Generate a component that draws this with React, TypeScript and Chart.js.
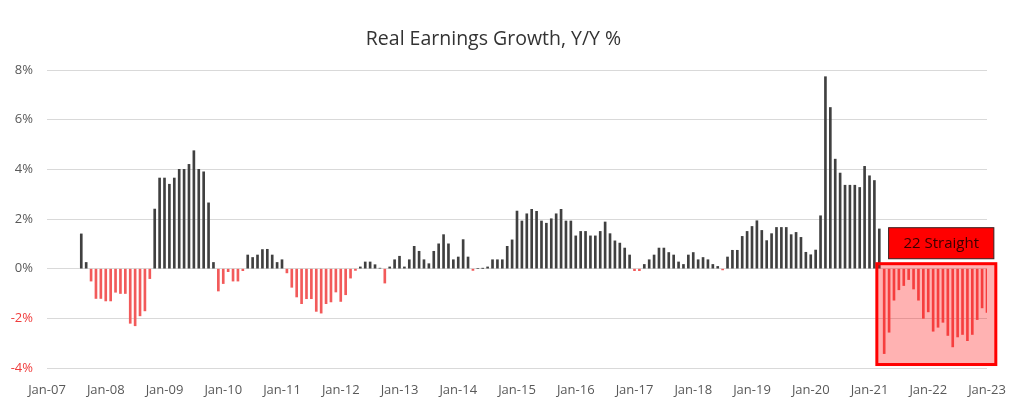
import { useEffect, useRef } from "react"
import { Chart, registerables } from "chart.js"
import type { Plugin } from "chart.js"

Chart.register(...registerables)

// x axis counts months from Jan-07; one tick label per year
const yearTicks = [
  "Jan-07", "Jan-08", "Jan-09", "Jan-10", "Jan-11", "Jan-12", "Jan-13", "Jan-14", "Jan-15",
  "Jan-16", "Jan-17", "Jan-18", "Jan-19", "Jan-20", "Jan-21", "Jan-22", "Jan-23",
]
const yTicks = [-4, -2, 0, 2, 4, 6, 8]

// first bar is Aug-07 (month 7), one value per month up to Jan-23
const firstMonth = 7
const realEarningsGrowth = [
  1.4, 0.25, -0.5, -1.2, -1.2,                                          // 2007 Aug-Dec
  -1.3, -1.3, -0.95, -1.0, -1.0, -2.2, -2.3, -1.9, -1.7, -0.4, 2.4, 3.65, // 2008
  3.65, 3.4, 3.65, 4.0, 4.0, 4.2, 4.75, 4.0, 3.9, 2.65, 0.25, -0.9,     // 2009
  -0.6, -0.12, -0.5, -0.5, -0.08, 0.55, 0.45, 0.55, 0.77, 0.78, 0.55, 0.25, // 2010
  0.36, -0.17, -0.75, -1.14, -1.41, -1.21, -1.21, -1.72, -1.79, -1.41, -1.34, -0.94, // 2011
  -1.32, -1.05, -0.38, -0.07, 0.07, 0.27, 0.27, 0.16, 0.02, -0.58, 0.07, 0.36, // 2012
  0.5, 0.07, 0.36, 0.9, 0.7, 0.36, 0.2, 0.7, 1.0, 1.37, 1.0, 0.36,     // 2013
  0.47, 1.17, 0.47, -0.07, 0, 0.01, 0.07, 0.36, 0.36, 0.36, 0.9, 1.16, // 2014
  2.32, 1.92, 2.21, 2.39, 2.31, 1.92, 1.83, 2.01, 2.21, 2.39, 1.92, 1.92, // 2015
  1.32, 1.5, 1.5, 1.32, 1.32, 1.5, 1.88, 1.41, 1.12, 1.03, 0.83, 0.55, // 2016
  -0.08, -0.08, 0.17, 0.36, 0.55, 0.83, 0.83, 0.65, 0.55, 0.27, 0.17, 0.55, // 2017
  0.65, 0.36, 0.45, 0.36, 0.17, 0.09, -0.05, 0.47, 0.74, 0.74, 1.3, 1.5, // 2018
  1.7, 1.93, 1.54, 1.13, 1.41, 1.66, 1.66, 1.66, 1.37, 1.46, 1.26, 0.66, // 2019
  0.56, 0.75, 2.13, 7.73, 6.49, 4.41, 3.85, 3.36, 3.36, 3.36, 3.27, 4.12, // 2020
  3.74, 3.55, 1.6, -3.42, -2.56, -1.27, -0.85, -0.68, -0.44, -0.82, -1.27, -2.0, // 2021
  -1.74, -2.52, -2.36, -2.16, -2.69, -3.15, -2.75, -2.65, -2.9, -2.65, -2.05, -1.58, // 2022
  -1.76,                                                                 // Jan-23
]

const streakLength = 22
const streakLabel = "22 Straight"

const barDark = "#404040"
const barRed = "#f25a5a"

const streakBox: Plugin<"bar"> = {
  id: "streakBox",
  afterDatasetsDraw(chart) {
    const { ctx, scales } = chart
    const x = scales.x
    const y = scales.y
    const lastMonth = firstMonth + realEarningsGrowth.length - 1
    const firstNeg = lastMonth - streakLength + 1
    const streak = realEarningsGrowth.slice(-streakLength)
    const low = Math.min(...streak)

    // shaded box over the run of negative months
    const left = x.getPixelForValue(firstNeg - 1.5)
    const right = x.getPixelForValue(lastMonth + 1.8)
    const top = y.getPixelForValue(0.2)
    const bottom = y.getPixelForValue(low - 0.44)
    ctx.save()
    ctx.fillStyle = "rgba(255, 0, 0, 0.3)"
    ctx.fillRect(left, top, right - left, bottom - top)
    ctx.strokeStyle = "#ff0000"
    ctx.lineWidth = 3
    ctx.strokeRect(left, top, right - left, bottom - top)

    // label above it
    const lLeft = x.getPixelForValue(firstNeg + 0.9)
    const lRight = x.getPixelForValue(lastMonth + 1.4)
    const lTop = y.getPixelForValue(1.65)
    const lBottom = y.getPixelForValue(0.4)
    ctx.fillStyle = "#ff0000"
    ctx.fillRect(lLeft, lTop, lRight - lLeft, lBottom - lTop)
    ctx.strokeStyle = "#3a2020"
    ctx.lineWidth = 1
    ctx.strokeRect(lLeft, lTop, lRight - lLeft, lBottom - lTop)
    ctx.fillStyle = "#3a0000"
    ctx.font = "15px 'Open Sans', sans-serif"
    ctx.textAlign = "center"
    ctx.textBaseline = "middle"
    ctx.fillText(streakLabel, (lLeft + lRight) / 2, (lTop + lBottom) / 2 + 1)
    ctx.restore()
  },
}

export default function App() {
  const chartRef = useRef<HTMLCanvasElement>(null)
  const chartInstance = useRef<Chart | null>(null)

  useEffect(() => {
    if (!chartRef.current) return
    if (chartInstance.current) {
      chartInstance.current.destroy()
    }
    const ctx = chartRef.current.getContext("2d")
    if (!ctx) return

    const points = realEarningsGrowth.map((v, i) => ({ x: firstMonth + i, y: v }))

    chartInstance.current = new Chart(ctx, {
      type: "bar",
      data: {
        datasets: [
          {
            label: "Real Earnings Growth, Y/Y %",
            data: points,
            backgroundColor: realEarningsGrowth.map((v) => (v < 0 ? barRed : barDark)),
            barThickness: 2,
          },
        ],
      },
      options: {
        responsive: true,
        maintainAspectRatio: false,
        animation: false,
        layout: { padding: { left: 0, right: 37, top: 0, bottom: 0 } },
        scales: {
          x: {
            type: "linear",
            offset: false,
            min: 0,
            max: (yearTicks.length - 1) * 12,
            grid: { display: false, drawTicks: false },
            border: { display: false },
            afterFit: (scale) => {
              scale.height = 41
            },
            ticks: {
              stepSize: 12,
              autoSkip: false,
              maxRotation: 0,
              padding: 14,
              color: "#595959",
              font: { size: 13 },
              callback: (v) => yearTicks[Math.round(Number(v) / 12)] ?? "",
            },
          },
          y: {
            min: yTicks[0],
            max: yTicks[yTicks.length - 1],
            grid: { color: "#d9d9d9", lineWidth: 1, drawTicks: false },
            border: { display: false },
            afterFit: (scale) => {
              scale.width = 47
            },
            ticks: {
              stepSize: 2,
              padding: 14,
              font: { size: 13 },
              color: (c) => (c.tick.value < 0 ? "#f03c3c" : "#595959"),
              callback: (v) => `${v}%`,
            },
          },
        },
        plugins: {
          legend: { display: false },
          tooltip: { enabled: false },
          title: {
            display: true,
            text: "Real Earnings Growth, Y/Y %",
            color: "#333333",
            font: { size: 19.5, weight: "normal" },
            padding: { top: 28, bottom: 18.6 },
          },
        },
      },
      plugins: [streakBox],
    })

    return () => {
      if (chartInstance.current) {
        chartInstance.current.destroy()
        chartInstance.current = null
      }
    }
  }, [])

  Chart.defaults.font.family = "'Open Sans', sans-serif"

  return (
    <div style={{ position: "absolute", left: 0, top: 0, width: 1024, height: 409, background: "#fff" }}>
      <canvas ref={chartRef} />
    </div>
  )
}
